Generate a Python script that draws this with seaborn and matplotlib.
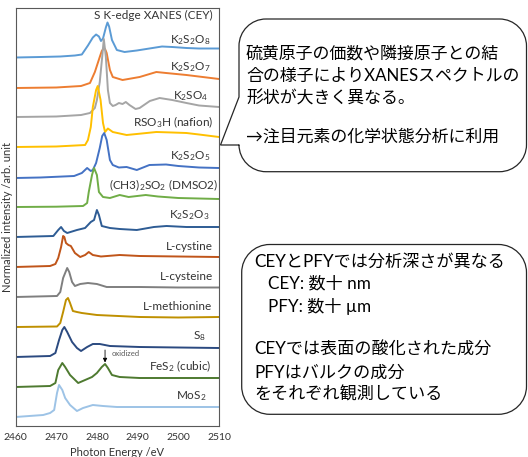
import matplotlib
matplotlib.use("Agg")
import matplotlib.pyplot as plt
from matplotlib import font_manager
from matplotlib.path import Path
from matplotlib.patches import PathPatch
from matplotlib.transforms import Affine2D
import pandas as pd
import seaborn as sns

# ---- S K-edge XANES spectra (CEY), photon energy in eV, normalized intensity ----
samples = ["K2S2O8", "K2S2O7", "K2SO4", "RSO3H", "K2S2O5", "DMSO2", "K2S2O3",
           "L-cystine", "L-cysteine", "L-methionine", "S8", "FeS2", "MoS2"]
sample_labels = [r"K$_2$S$_2$O$_8$", r"K$_2$S$_2$O$_7$", r"K$_2$SO$_4$",
                 r"RSO$_3$H (nafion)", r"K$_2$S$_2$O$_5$", r"(CH3)$_2$SO$_2$ (DMSO2)",
                 r"K$_2$S$_2$O$_3$", "L-cystine", "L-cysteine", "L-methionine",
                 r"S$_8$", r"FeS$_2$ (cubic)", r"MoS$_2$"]
colors = ["#5B9BD5", "#ED7D31", "#A5A5A5", "#FFC000", "#4472C4", "#70AD47", "#2E5C94",
          "#C0551A", "#7F7F7F", "#BF9000", "#2B4A80", "#4E7A30", "#9DC3E6"]
# vertical stacking offset of each spectrum
offsets = [36.85, 33.8, 30.9, 27.9, 24.8, 21.9, 18.9, 15.9, 12.9, 9.9, 6.9, 3.9, 0.9]

e_k2s2o8 = [2460.0, 2466.1, 2471.0, 2474.6, 2476.3, 2477.8, 2479.0, 2479.8, 2480.5, 2481.0, 2481.5,
            2482.2, 2482.6, 2483.0, 2483.7, 2484.9, 2486.8, 2489.8, 2492.9, 2496.0, 2498.5, 2502.0,
            2505.1, 2510.0]
i_k2s2o8 = [0.0, 0.05, 0.1, 0.2, 0.3, 1.2, 2.0, 2.3, 2.1, 1.65, 1.9, 3.0, 3.5, 3.1, 1.75, 0.75,
            0.55, 0.7, 0.9, 1.1, 1.05, 0.95, 0.9, 0.9]

e_k2s2o7 = [2460.0, 2470.0, 2476.1, 2478.3, 2479.5, 2480.7, 2481.2, 2481.7, 2482.0, 2482.4, 2483.2,
            2483.9, 2486.3, 2490.5, 2494.6, 2497.0, 2502.0, 2510.0]
i_k2s2o7 = [0.0, 0.05, 0.2, 0.5, 1.6, 3.1, 3.7, 4.0, 3.9, 3.5, 1.8, 1.1, 0.8, 1.1, 1.6, 1.5, 1.3, 0.9]

e_k2so4 = [2460.0, 2470.0, 2476.1, 2478.3, 2479.5, 2480.0, 2480.7, 2481.3, 2481.7, 2482.2, 2482.7,
           2483.2, 2483.9, 2484.6, 2485.4, 2486.3, 2487.1, 2488.0, 2489.5, 2490.5, 2493.0, 2495.4,
           2498.5, 2502.0, 2505.1, 2510.0]
i_k2so4 = [0.0, 0.05, 0.2, 0.4, 0.9, 1.7, 3.5, 6.0, 7.8, 6.0, 2.7, 1.4, 1.1, 1.2, 1.4, 1.3, 1.5,
           1.2, 0.8, 0.9, 1.6, 1.9, 1.7, 1.4, 1.15, 1.0]

e_rso3h = [2460.0, 2470.0, 2477.1, 2477.8, 2478.5, 2479.0, 2479.8, 2480.2, 2480.9, 2481.5, 2482.0,
           2482.7, 2483.9, 2487.3, 2491.0, 2494.6, 2498.5, 2502.0, 2505.1, 2510.0]
i_rso3h = [0.0, 0.05, 0.2, 0.7, 2.0, 4.0, 5.7, 6.1, 4.7, 2.4, 1.5, 1.85, 1.5, 1.2, 1.35, 1.5, 1.45,
           1.4, 1.25, 1.0]

e_k2s2o5 = [2460.0, 2466.1, 2474.4, 2476.3, 2477.6, 2478.5, 2479.0, 2479.8, 2480.7, 2481.3, 2481.8,
            2482.4, 2483.2, 2483.9, 2485.4, 2487.3, 2489.8, 2492.9, 2497.0, 2500.0, 2505.1, 2510.0]
i_k2s2o5 = [0.0, 0.05, 0.2, 0.5, 1.0, 0.7, 0.8, 1.5, 3.0, 4.2, 4.5, 3.8, 1.8, 1.3, 1.05, 1.1, 0.8,
            1.3, 1.35, 1.2, 1.05, 1.0]

e_dmso2 = [2460.0, 2470.0, 2476.6, 2477.6, 2478.0, 2478.8, 2479.3, 2480.0, 2480.5, 2481.5, 2483.2,
           2485.6, 2487.8, 2492.0, 2495.0, 2500.0, 2510.0]
i_dmso2 = [0.0, 0.03, 0.1, 0.4, 1.5, 3.2, 3.9, 3.2, 1.5, 1.0, 0.9, 1.2, 1.0, 1.2, 1.05, 0.9, 0.8]

e_k2s2o3 = [2460.0, 2469.3, 2470.5, 2471.2, 2471.9, 2472.7, 2475.1, 2477.1, 2477.8, 2478.5, 2479.3,
            2480.0, 2480.5, 2481.2, 2483.2, 2485.6, 2489.8, 2494.0, 2497.1, 2502.0, 2510.0]
i_k2s2o3 = [0.0, 0.1, 0.7, 1.0, 0.6, 0.4, 0.7, 0.9, 1.2, 1.5, 1.7, 2.7, 2.2, 1.1, 0.9, 0.8, 0.7,
            1.0, 1.1, 1.0, 1.0]

e_cystine = [2460.0, 2468.5, 2469.8, 2470.5, 2471.2, 2471.7, 2472.0, 2472.4, 2473.0, 2473.6, 2474.6,
             2475.9, 2477.1, 2478.0, 2479.0, 2481.0, 2485.6, 2490.5, 2500.0, 2510.0]
i_cystine = [0.0, 0.1, 0.3, 0.9, 2.0, 3.1, 3.0, 2.4, 2.2, 2.1, 1.4, 1.0, 1.2, 1.5, 1.2, 1.05, 1.2,
             1.1, 1.05, 1.0]

e_cysteine = [2460.0, 2470.2, 2471.0, 2471.7, 2472.7, 2473.2, 2473.9, 2474.6, 2475.9, 2477.8,
              2480.0, 2482.4, 2490.5, 2500.0, 2510.0]
i_cysteine = [0.0, 0.1, 0.5, 1.9, 2.9, 2.5, 1.5, 1.1, 1.3, 1.4, 1.3, 1.0, 1.0, 0.95, 0.95]

e_methionine = [2460.0, 2470.2, 2471.0, 2471.7, 2472.4, 2472.9, 2473.4, 2474.1, 2475.1, 2476.3,
                2480.0, 2490.5, 2500.0, 2510.0]
i_methionine = [0.0, 0.05, 0.4, 1.5, 2.7, 2.9, 2.4, 1.6, 1.5, 1.4, 1.2, 1.0, 0.95, 1.0]

e_s8 = [2460.0, 2468.5, 2469.8, 2470.7, 2471.5, 2472.0, 2472.7, 2473.9, 2475.1, 2476.1, 2477.6,
        2479.0, 2480.7, 2483.2, 2490.5, 2500.0, 2510.0]
i_s8 = [0.0, 0.1, 0.4, 1.7, 2.7, 3.0, 2.5, 1.5, 0.9, 0.6, 1.0, 1.3, 1.3, 1.1, 1.0, 0.95, 0.9]

e_fes2 = [2460.0, 2468.5, 2469.8, 2470.5, 2471.5, 2472.2, 2473.4, 2475.4, 2477.1, 2478.8, 2480.0,
          2481.2, 2482.0, 2482.7, 2483.7, 2485.6, 2490.5, 2500.0, 2510.0]
i_fes2 = [0.0, 0.1, 0.4, 1.7, 2.4, 2.0, 1.2, 0.4, 0.7, 1.0, 1.4, 2.0, 2.3, 1.9, 1.2, 1.0, 0.9, 0.9, 0.9]

e_mos2 = [2460.0, 2466.8, 2468.5, 2469.5, 2470.2, 2470.7, 2471.5, 2472.2, 2473.4, 2475.1, 2476.6,
          2479.0, 2481.5, 2484.9, 2490.5, 2500.0, 2510.0]
i_mos2 = [0.0, 0.2, 0.4, 0.7, 2.4, 3.2, 2.7, 1.9, 1.2, 0.6, 0.9, 1.2, 1.1, 1.0, 1.0, 1.0, 1.0]

# oxidized-sulfur feature marked on FeS2
oxidized_energy = 2482.0

x_ticks = [2460, 2470, 2480, 2490, 2500, 2510]

spectra = [(e_k2s2o8, i_k2s2o8), (e_k2s2o7, i_k2s2o7), (e_k2so4, i_k2so4), (e_rso3h, i_rso3h),
           (e_k2s2o5, i_k2s2o5), (e_dmso2, i_dmso2), (e_k2s2o3, i_k2s2o3),
           (e_cystine, i_cystine), (e_cysteine, i_cysteine), (e_methionine, i_methionine),
           (e_s8, i_s8), (e_fes2, i_fes2), (e_mos2, i_mos2)]

rows = []
for name, off, (ev, iv) in zip(samples, offsets, spectra):
    for e, v in zip(ev, iv):
        rows.append({"sample": name, "energy": e, "signal": v + off})
df = pd.DataFrame(rows)

# ---- style ----
sns.set_style("white")
plt.rcParams["font.family"] = ["Lato", "DejaVu Sans"]
plt.rcParams["mathtext.default"] = "regular"
TXT = "#333333"

installed = {f.name for f in font_manager.fontManager.ttflist}
latin_narrow = "Liberation Sans Narrow" if "Liberation Sans Narrow" in installed else "Lato"
JP = [latin_narrow, "Noto Sans CJK JP", "DejaVu Sans"]

W, H = 528, 457
fig = plt.figure(figsize=(W / 100, H / 100), dpi=100)
ax = fig.add_axes([15.5 / W, 1 - 426 / H, 203.5 / W, 418 / H])

sns.lineplot(data=df, x="energy", y="signal", hue="sample", hue_order=samples,
             palette=dict(zip(samples, colors)), estimator=None, sort=False,
             legend=False, linewidth=1.4, ax=ax)

ax.set_xlim(2460, 2510)
ax.set_ylim(0, 41.8)
ax.set_xticks(x_ticks)
ax.set_xticklabels([str(t) for t in x_ticks])
ax.set_yticks([])
ax.tick_params(axis="x", direction="in", length=3, width=0.7, color="#595959",
               labelsize=7.5, labelcolor=TXT, pad=5)
for s in ax.spines.values():
    s.set_color("#595959")
    s.set_linewidth(0.8)

ax.set_xlabel("Photon Energy /eV", fontsize=8, color=TXT, va="baseline")
ax.xaxis.set_label_coords(0.5, -(455.5 - 426) / 418)
ax.set_ylabel("Normalized intensity /arb. unit", fontsize=8, color=TXT)
ax.yaxis.set_label_coords(-0.01, 0.5)

# sample names, right aligned at the right side of each trace
label_x = [2507.96, 2507.8, 2507.4, 2508.6, 2507.8, 2509.8, 2507.6, 2508.6, 2508.6, 2508.2,
           2506.7, 2508.0, 2507.0]
label_y = [38.6, 35.9, 32.95, 30.4, 27.0, 24.1, 21.1, 18.0, 15.0, 11.95, 8.95, 6.0, 3.0]
for lab, lx, ly in zip(sample_labels, label_x, label_y):
    ax.text(lx, ly, lab, ha="right", va="center", fontsize=8.5, color=TXT)
ax.text(2508.35, 41.1, "S K-edge XANES (CEY)", ha="right", va="center", fontsize=8.5, color=TXT)

ax.annotate("", xy=(oxidized_energy, 6.35), xytext=(oxidized_energy, 7.6),
            arrowprops=dict(arrowstyle="-|>", color="black", lw=0.6, mutation_scale=6,
                            shrinkA=0, shrinkB=0))
ax.text(oxidized_energy + 1.5, 7.3, "oxidized", fontsize=5.5, color="#595959",
        ha="left", va="center")

# ---- callout boxes (drawn in pixel coordinates, origin top-left) ----
pix = Affine2D().scale(1 / W, -1 / H).translate(0, 1) + fig.transFigure
K = 0.5523


def rounded_box(x0, y0, x1, y1, r, pointer=None):
    verts = [(x0 + r, y0), (x1 - r, y0),
             (x1 - r + K * r, y0), (x1, y0 + r - K * r), (x1, y0 + r),
             (x1, y1 - r),
             (x1, y1 - r + K * r), (x1 - r + K * r, y1), (x1 - r, y1),
             (x0 + r, y1),
             (x0 + r - K * r, y1), (x0, y1 - r + K * r), (x0, y1 - r)]
    codes = [Path.MOVETO, Path.LINETO,
             Path.CURVE4, Path.CURVE4, Path.CURVE4,
             Path.LINETO,
             Path.CURVE4, Path.CURVE4, Path.CURVE4,
             Path.LINETO,
             Path.CURVE4, Path.CURVE4, Path.CURVE4]
    if pointer is not None:
        (yb, tip, ya) = pointer
        verts += [(x0, yb), tip, (x0, ya)]
        codes += [Path.LINETO, Path.LINETO, Path.LINETO]
    verts += [(x0, y0 + r), (x0, y0 + r - K * r), (x0 + r - K * r, y0), (x0 + r, y0)]
    codes += [Path.LINETO, Path.CURVE4, Path.CURVE4, Path.CURVE4]
    return Path(verts, codes)


box1 = PathPatch(rounded_box(239, 19, 526.5, 171.7, 27, pointer=(145, (220.5, 145), 97)),
                 transform=pix, facecolor="white", edgecolor="#262626", lw=0.9)
box2 = PathPatch(rounded_box(241.7, 244.5, 526.5, 414.3, 28),
                 transform=pix, facecolor="white", edgecolor="#262626", lw=0.9)
fig.patches.extend([box1, box2])

lines1 = [(246, 53.3, "硫黄原子の価数や隣接原子との結"),
          (246, 76.0, "合の様子によりXANESスペクトルの"),
          (246, 98.5, "形状が大きく異なる。"),
          (246, 136.7, "→注目元素の化学状態分析に利用")]
for x, y, s in lines1:
    fig.text(x / W, 1 - y / H, s, ha="left", va="center", fontsize=12.2, family=JP, color="black")

lines2 = [(254, 261.7, "CEYとPFYでは分析深さが異なる"),
          (268, 283.5, "CEY: 数十 nm"),
          (268, 306.0, "PFY: 数十 µm"),
          (254, 350.0, "CEYでは表面の酸化された成分"),
          (254, 372.7, "PFYはバルクの成分"),
          (254, 395.0, "をそれぞれ観測している")]
for x, y, s in lines2:
    fig.text(x / W, 1 - y / H, s, ha="left", va="center", fontsize=12.3, family=JP, color="black")

fig.savefig("out.png", dpi=100)
